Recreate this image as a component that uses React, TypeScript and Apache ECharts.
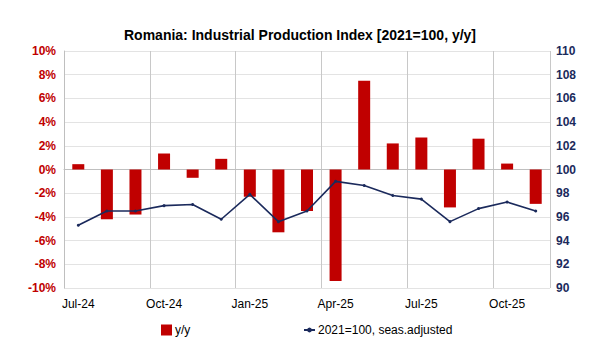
import React, { useEffect, useRef } from "react";
import * as echarts from "echarts";

const categories = ["Jul-24","Aug-24","Sep-24","Oct-24","Nov-24","Dec-24","Jan-25","Feb-25","Mar-25","Apr-25","May-25","Jun-25","Jul-25","Aug-25","Sep-25","Oct-25","Nov-25"];
const yoy = [0.45, -4.2, -3.8, 1.35, -0.7, 0.9, -2.3, -5.3, -3.5, -9.4, 7.5, 2.2, 2.7, -3.2, 2.6, 0.5, -2.9];
const index2021 = [95.3, 96.5, 96.5, 96.95, 97.05, 95.8, 97.9, 95.6, 96.5, 99.0, 98.65, 97.8, 97.5, 95.6, 96.7, 97.25, 96.5];
const leftTicks = [-10, 10, 2];
const rightTicks = [90, 110, 2];

const RED = "#C00000";
const NAVY = "#1B2A5C";
const FONT = "Liberation Sans, Arial, sans-serif";

export default function App() {
  const ref = useRef<HTMLDivElement>(null);
  useEffect(() => {
    const chart = echarts.init(ref.current!, null, { renderer: "svg" });
    chart.setOption({
      animation: false,
      backgroundColor: "#fff",
      textStyle: { fontFamily: FONT },
      title: {
        text: "Romania: Industrial Production Index [2021=100, y/y]",
        left: "center",
        top: 23,
        textStyle: { fontSize: 14, fontWeight: "bold", color: "#000", fontFamily: FONT },
      },
      legend: [
        {
          data: [{ name: "y/y", icon: "rect" }],
          left: 156,
          top: 319,
          itemWidth: 11,
          itemHeight: 11,
          itemGap: 4,
          textStyle: { fontSize: 12, color: "#000", fontFamily: FONT, padding: [0, 0, 0, -2] },
        },
        {
          data: [{ name: "2021=100, seas.adjusted" }],
          left: 298,
          top: 319,
          itemWidth: 11,
          itemHeight: 6,
          textStyle: { fontSize: 12, color: "#000", fontFamily: FONT, padding: [0, 0, 0, -2] },
        },
      ],
      grid: { left: 64, right: 50, top: 51, bottom: 69, containLabel: false },
      xAxis: {
        type: "category",
        data: categories,
        boundaryGap: true,
        axisLine: { show: true, lineStyle: { color: "#bfbfbf" } },
        axisTick: { show: false, interval: 2 },
        axisLabel: { interval: 2, color: "#000", fontSize: 12, margin: 10, fontFamily: FONT },
        splitLine: { show: true, interval: 2, lineStyle: { color: "#c8c8c8", width: 1 } },
      },
      yAxis: [
        {
          type: "value",
          min: leftTicks[0],
          max: leftTicks[1],
          interval: leftTicks[2],
          axisLine: { show: true, lineStyle: { color: "#bfbfbf" } },
          axisTick: { show: false },
          axisLabel: {
            formatter: (v: number) => v + "%",
            color: RED,
            fontWeight: "bold",
            fontSize: 12,
            margin: 8,
            fontFamily: FONT,
          },
          splitLine: { show: true, lineStyle: { color: "#e3e3e3", width: 1 } },
        },
        {
          type: "value",
          min: rightTicks[0],
          max: rightTicks[1],
          interval: rightTicks[2],
          position: "right",
          axisLine: { show: false },
          axisTick: { show: false },
          axisLabel: { color: NAVY, fontWeight: "bold", fontSize: 12, margin: 6, fontFamily: FONT },
          splitLine: { show: false },
        },
      ],
      series: [
        {
          name: "y/y",
          type: "bar",
          data: yoy,
          yAxisIndex: 0,
          barWidth: 12,
          itemStyle: { color: RED },
        },
        {
          name: "2021=100, seas.adjusted",
          type: "line",
          data: index2021,
          yAxisIndex: 1,
          symbol: "circle",
          symbolSize: 3,
          lineStyle: { color: NAVY, width: 1.6 },
          itemStyle: { color: NAVY },
        },
      ],
    });
    return () => chart.dispose();
  }, []);
  return <div ref={ref} style={{ width: 600, height: 357, margin: -8 }} />;
}
